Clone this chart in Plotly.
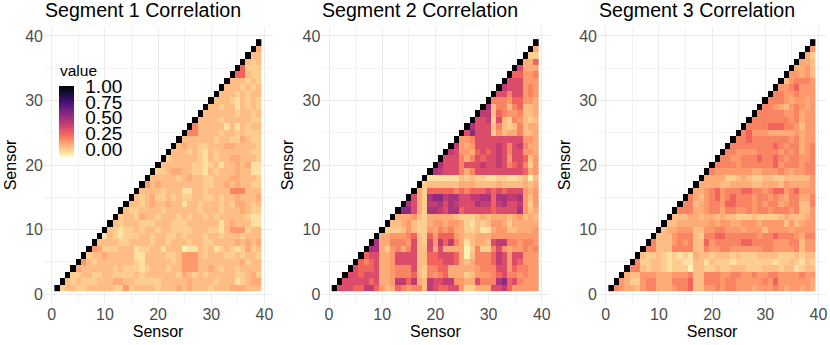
import plotly.graph_objects as go

# Cell shades, one character per sensor pair
LEVEL_VALUES = {"0": -0.09, "1": -0.045, "2": 0.0, "3": 0.04, "4": 0.08, "5": 0.125,
                "6": 0.175, "7": 0.25, "8": 0.335, "9": 0.41, "a": 0.47, "b": 0.55}
DIAGONAL = 1.0

# Rows are sensor 1..38; characters are the sensors above the row's sensor, in order
SEGMENT_1 = [
    "23322333332252333323334343332333444333", "3232223334433222223333343333233312344",
    "223322332222323333332432323333322342", "43333332322212333233555334323323333",
    "5323333333213333323555333333334233", "233433333113333223555323332232332",
    "54222333122331333011323123212423", "3333223333233233323322333343434",
    "132122233233223233323323332333", "32122323323322223332213555233",
    "3233322233322233333313433311", "233243323332323323233333211",
    "32233332333333233323334322", "3323433433133233323244323",
    "323422323223322323343334", "33332333113323333666333",
    "5343333333322334343322", "333332343322333443332",
    "22344332213233343311", "3333332212313343411",
    "233333213233443332", "33323213233333322",
    "3433223334433332", "333333233224322",
    "66333323323222", "6333331313233",
    "333323333322", "33333323323",
    "3323313232", "333213232",
    "33323233", "3332323",
    "333232", "77322",
    "7222", "323",
    "33", "4",
]
SEGMENT_2 = [
    "88877997534765663987788522444889755555", "8888878445997943988995544866" "6ab786555",
    "887888445666732656744423555678665655", "87778445666832667744444566688576655",
    "7678445888833777887434666798587555", "788445888833778887403666798588555",
    "aa425646833848444402622685455656", "a446665832859796413443899665665",
    "445556732757775433444555555555", "22235322546564422311455334445",
    "3345322455455421323554244444", "444532444443222343444345343",
    "bb842aa98aa78888878888a534", "a84299a8a9888a9979a889525",
    "842abb9aa8899aa7aa99a535", "42777776767778787888545",
    "2333333444333343333434", "111111323221122112303",
    "a9888646888888888745", "a888688898898678625",
    "888646878898588735", "98554787898688554",
    "9545888898689644", "556888888888554",
    "8b888253446334", "a888363236344",
    "889283265323", "99376556334",
    "a366367334", "666577554",
    "88688565", "9888565",
    "888555", "77556",
    "8444", "447",
    "22", "4",
]
SEGMENT_3 = [
    "65443566444566733556566555455565455454", "5422566444666733666566555556575555554",
    "433555444555633666556655655665555655", "66323321222033223223332223332331233",
    "6223321221133132221222222212232132", "322321212143323332322233332223233",
    "66333666633655665555556655556355", "6333565633756666677666655566355",
    "333566632667766666656676665466", "34455533556655545553555545555",
    "3344444454554455545555353455", "333443443433222322223433345",
    "66644566466556566566656335", "6634566577666565664566336",
    "643567567666566565466446", "44567566677665677567555",
    "4444334444334443544445", "444422343223322333335",
    "65555555445556545566", "6666566666675666566",
    "665566676676566556", "66555566665656456",
    "6666666676566456", "667666666656455",
    "67555444445455", "6666777665355",
    "666666656455", "66666556455",
    "6654356545", "666545545",
    "66556555", "5567555",
    "356665", "55453",
    "4453", "443",
    "42", "5",
]

SENSORS = list(range(1, 40))
TICKS = [0, 10, 20, 30, 40]
MINOR_TICKS = [5, 15, 25, 35]
TITLES = ["Segment 1 Correlation", "Segment 2 Correlation", "Segment 3 Correlation"]
SEGMENTS = [SEGMENT_1, SEGMENT_2, SEGMENT_3]
COLORBAR_TICKS = [0, 0.25, 0.5, 0.75, 1]
COLORBAR_LABELS = ["0.00", "0.25", "0.50", "0.75", "1.00"]

W, H = 830, 345
PANEL_LEFT = [44.0, 321.3, 598.0]
PANEL_W = 228.2
PANEL_TOP, PANEL_BOTTOM = 26.6, 303.4
FONT = "Liberation Sans"


def to_matrix(rows):
    z = [[None] * 39 for _ in range(39)]
    z[38][38] = DIAGONAL
    for i, row in enumerate(rows):
        if len(row) != 38 - i:
            raise ValueError(f"row {i + 1} has {len(row)} cells, expected {38 - i}")
        z[i][i] = DIAGONAL
        for k, ch in enumerate(row):
            z[i][i + 1 + k] = LEVEL_VALUES[ch]
    return z


fig = go.Figure()
annotations = [dict(
    text="value", xref="paper", yref="paper", x=58 / W, y=1 - 70 / H,
    xanchor="left", yanchor="middle", showarrow=False,
    font=dict(family=FONT, size=15.5, color="#000000"),
)]
for p, rows in enumerate(SEGMENTS):
    suffix = "" if p == 0 else str(p + 1)
    fig.add_trace(go.Heatmap(
        z=to_matrix(rows), x=SENSORS, y=SENSORS, xaxis=f"x{suffix}", yaxis=f"y{suffix}",
        colorscale="Magma", reversescale=True, zmin=-0.115, zmax=1.0, hoverongaps=False,
        showscale=p == 0,
        colorbar=dict(
            x=59 / W, xanchor="left", xpad=0, y=1 - 86 / H, yanchor="top", ypad=0,
            thickness=15, thicknessmode="pixels", len=71, lenmode="pixels",
            outlinewidth=0, ticks="outside", ticklen=8, tickcolor="rgba(255,255,255,0)",
            tickvals=COLORBAR_TICKS, ticktext=COLORBAR_LABELS,
            tickfont=dict(family=FONT, size=19, color="#000000"),
        ),
    ))
    left = PANEL_LEFT[p]
    axis_common = dict(
        range=[-1.45, 41.45], tickvals=TICKS, ticks="", showline=False, zeroline=False,
        showgrid=True, gridcolor="#EBEBEB", gridwidth=1,
        tickfont=dict(family=FONT, size=16, color="#4D4D4D"),
        minor=dict(tickvals=MINOR_TICKS, showgrid=True, gridcolor="#F2F2F2", gridwidth=0.6, ticks=""),
    )
    fig.update_layout({
        f"xaxis{suffix}": dict(
            axis_common, domain=[left / W, (left + PANEL_W) / W], anchor=f"y{suffix}",
            title=dict(text="Sensor", font=dict(family=FONT, size=16, color="#000000"), standoff=0),
        ),
        f"yaxis{suffix}": dict(
            axis_common, domain=[1 - PANEL_BOTTOM / H, 1 - PANEL_TOP / H], anchor=f"x{suffix}",
            title=dict(text="Sensor", font=dict(family=FONT, size=16, color="#000000"), standoff=4),
        ),
    })
    annotations.append(dict(
        text=TITLES[p], xref="paper", yref="paper", x=(left - 1) / W, y=1 - 23.5 / H,
        xanchor="left", yanchor="bottom", showarrow=False,
        font=dict(family=FONT, size=19.6, color="#000000"),
    ))

fig.update_layout(
    width=W, height=H, margin=dict(l=0, r=0, t=0, b=0), autosize=False,
    paper_bgcolor="white", plot_bgcolor="white", annotations=annotations,
)
fig.write_html("out.html", post_script="document.body.style.margin='0';",
               config={"displayModeBar": False})
